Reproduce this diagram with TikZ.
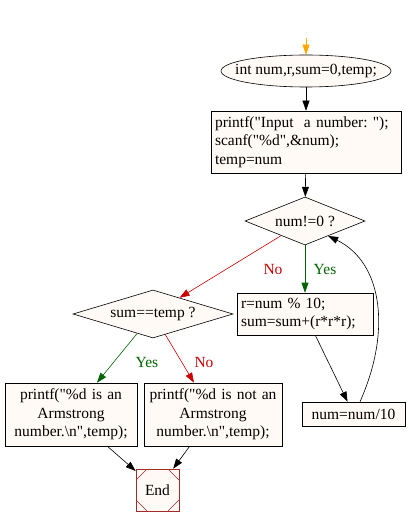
\documentclass[tikz,border=0pt]{standalone}
\usepackage{fontspec}
\setmainfont{Liberation Serif}[Ligatures=TeXOff]
\usetikzlibrary{shapes.geometric,arrows.meta}
\definecolor{boxfill}{RGB}{255,250,245}
\definecolor{endred}{RGB}{165,42,42}
\definecolor{yesgreen}{RGB}{0,100,0}
\definecolor{nored}{RGB}{204,0,0}
\definecolor{startorange}{RGB}{255,165,0}
\newcommand\flowfont{\fontsize{15.5}{18.5}\selectfont\frenchspacing}

\begin{document}
\begin{tikzpicture}
[x=1pt,y=-1pt,>={Triangle[length=10pt,width=7pt]},line width=0.6pt]
\tikzset{
	stmt/.style = {rectangle, draw, fill=boxfill, inner xsep=4pt, inner ysep=0pt, font=\flowfont},
	test/.style = {diamond, draw, fill=boxfill, inner sep=0pt, font=\flowfont},
	yeslabel/.style = {text=yesgreen, font=\flowfont},
	nolabel/.style = {text=nored, font=\flowfont},
	yesedge/.style = {->, draw=yesgreen},
	noedge/.style = {->, draw=nored},
	stop/.style = {rectangle, draw=endred, fill=boxfill, inner sep=0pt, font=\flowfont,
		minimum width=43pt, minimum height=42pt,
		path picture = {
			\draw [endred] ([yshift=-11pt]path picture bounding box.north west) -- ([xshift=11pt]path picture bounding box.north west);
			\draw [endred] ([yshift=-11pt]path picture bounding box.north east) -- ([xshift=-11pt]path picture bounding box.north east);
			\draw [endred] ([yshift=11pt]path picture bounding box.south west) -- ([xshift=11pt]path picture bounding box.south west);
			\draw [endred] ([yshift=11pt]path picture bounding box.south east) -- ([xshift=-11pt]path picture bounding box.south east);
		}}
}
\useasboundingbox (0,0) rectangle (408,526);

\coordinate (start) at (306,38);
\node (init) [ellipse, draw, fill=boxfill, inner xsep=-12pt, inner ysep=0pt, minimum width=170pt, minimum height=32pt, font=\flowfont] at (306,71) {int num,r,sum=0,temp;};
\node (read) [stmt, text width=182pt, minimum height=62pt, align=left] at (306,142) {printf("Input\ \ a number: ");\\scanf("\%d",\&num);\\temp=num};
\node (cond1) [test, aspect=2.5, minimum width=120pt, minimum height=48pt] at (305,221) {num!=0 ?};
\node (digit) [stmt, text width=128pt, minimum height=42pt, align=left] at (305,314) {r=num \% 10;\\sum=sum+(r*r*r);};
\node (cond2) [test, aspect=3.3, minimum width=160pt, minimum height=48pt] at (153,314) {sum==temp ?};
\node (isarm) [stmt, text width=124pt, minimum height=63pt, align=center] at (71,414.5) {printf("\%d is an\\Armstrong\\number.\textbackslash n",temp);};
\node (notarm) [stmt, text width=130pt, minimum height=63pt, align=center] at (213,414.5) {printf("\%d is not an\\Armstrong\\number.\textbackslash n",temp);};
\node (loop) [stmt, minimum width=103pt, minimum height=24pt] at (353.5,414) {num=num/10};
\node (end) [stop] at (157.5,490) {End};

\node (no1) [nolabel] at (273,269) {No};
\node (yes1) [yeslabel] at (325,269) {Yes};
\node (yes2) [yeslabel] at (147,362) {Yes};
\node (no2) [nolabel] at (204,362) {No};

\draw [->, draw=startorange] (start) -- (init);
\draw [->] (init) -- (read);
\draw [->] (read) -- (cond1);
\draw [noedge] (cond1) -- (cond2);
\draw [yesedge] (cond1) -- (digit);
\draw [yesedge] (cond2) -- (isarm);
\draw [noedge] (cond2) -- (notarm);
\draw [->] (digit) -- (loop);
\draw [->] ([xshift=6.5pt]loop.north) .. controls (392,330) and (382,262) .. ([xshift=-7pt,yshift=-2.8pt]cond1.south east);
\draw [->] (isarm) -- (end);
\draw [->] (notarm) -- (end);
\end{tikzpicture}
\end{document}
